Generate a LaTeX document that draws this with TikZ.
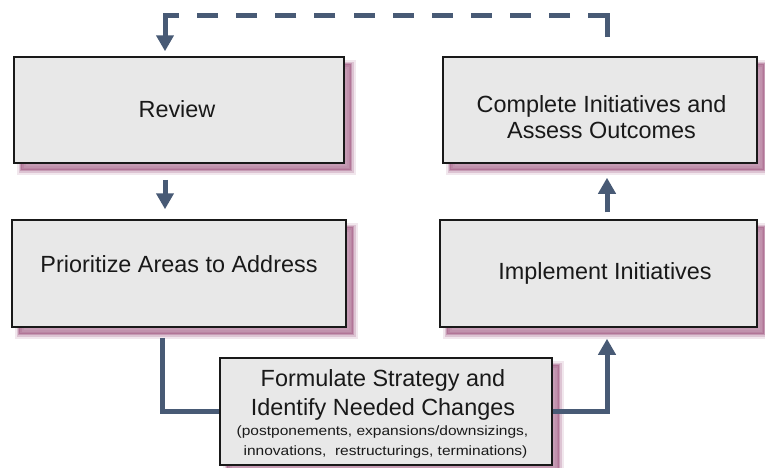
\documentclass[tikz,border=0pt]{standalone}
\usepackage{fontspec}
\setmainfont{Liberation Sans}
\usetikzlibrary{arrows.meta,calc}
\definecolor{boxfill}{RGB}{232,232,232}
\definecolor{conn}{RGB}{72,90,117}
\definecolor{shc}{RGB}{165,95,135}
\begin{document}
\begin{tikzpicture}[x=1pt,y=-1pt,
  box/.style={rectangle, draw=black!90, line width=1.5pt, fill=boxfill, inner sep=0pt,
    preaction={draw=shc, fill=shc, line width=9pt, opacity=0.15, transform canvas={shift={(7pt,-7pt)}}},
    preaction={draw=shc, fill=shc, line width=5pt, opacity=0.25, transform canvas={shift={(7pt,-7pt)}}},
    preaction={draw=shc, fill=shc, line width=1.5pt, opacity=0.4, transform canvas={shift={(7pt,-7pt)}}}},
  txt/.style={inner sep=0pt, anchor=base, font=\fontsize{23.4}{26}\selectfont, text=black!90},
  smalltxt/.style={inner sep=0pt, anchor=base, font=\fontsize{13.5}{20}\selectfont, text=black!90},
  cline/.style={draw=conn, line width=5pt},
  arr/.style={cline, -{Triangle[width=17pt,length=16pt]}},
  dline/.style={cline, dash pattern={on 41pt off 18pt on 21pt off 18.1pt on 21pt off 18.1pt on 21pt off 18.1pt on 21pt off 18.1pt on 21pt off 18.1pt on 21pt off 18.1pt on 21pt off 18.1pt on 21pt off 18.1pt on 21pt off 18.1pt on 21pt off 18.1pt}}
]
\useasboundingbox (0,0) rectangle (765,467);
\fill[white] (0,0) rectangle (765,467);

% boxes
\node[box, minimum width=330pt, minimum height=106pt] (review) at (179,110) {};
\node[box, minimum width=334pt, minimum height=107pt] (prio) at (179,273.5) {};
\node[box, minimum width=314pt, minimum height=106pt] (complete) at (600,110) {};
\node[box, minimum width=317pt, minimum height=107pt] (impl) at (598.5,273.5) {};
\node[box, minimum width=332pt, minimum height=107pt] (form) at (386,411.5) {};

% texts
\node[txt] (reviewt) at (177,117) {Review};
\node[txt] (priot) at (179,272) {Prioritize Areas to Address};
\node[txt] (comp1) at (601.5,112) {Complete Initiatives and};
\node[txt] (comp2) at (601.5,138) {Assess Outcomes};
\node[txt] (implt) at (605,279) {Implement Initiatives};
\node[txt] (form1) at (383,386) {Formulate Strategy and};
\node[txt] (form2) at (383,415) {Identify Needed Changes};
\node[smalltxt] (form3) at (382.5,435) {\scalebox{1.15}[1]{(postponements, expansions/downsizings,}};
\node[smalltxt] (form4) at (385.5,455) {\scalebox{1.15}[1]{innovations,\ \ restructurings, terminations)}};

% helper coordinates
\coordinate (colL) at (165,0);
\coordinate (colL2) at (162.5,0);
\coordinate (colR) at (607,0);
\coordinate (dstart) at (607,37);
\coordinate (dcorner) at (165,15);

% connectors
\draw[dline] (dstart) |- (dcorner);
\draw[arr, line cap=rect, shorten >=5pt] (dcorner) -- (review.north -| dcorner);
\draw[arr, shorten <=16pt, shorten >=10pt] (review.south -| colL) -- (prio.north -| colL);
\draw[cline, shorten <=10pt] (prio.south -| colL2) |- (form.west);
\draw[arr, shorten >=11pt] (form.east) -| (impl.south -| colR);
\draw[arr, shorten <=7pt, shorten >=14pt] (impl.north -| colR) -- (complete.south -| colR);
\end{tikzpicture}
\end{document}
